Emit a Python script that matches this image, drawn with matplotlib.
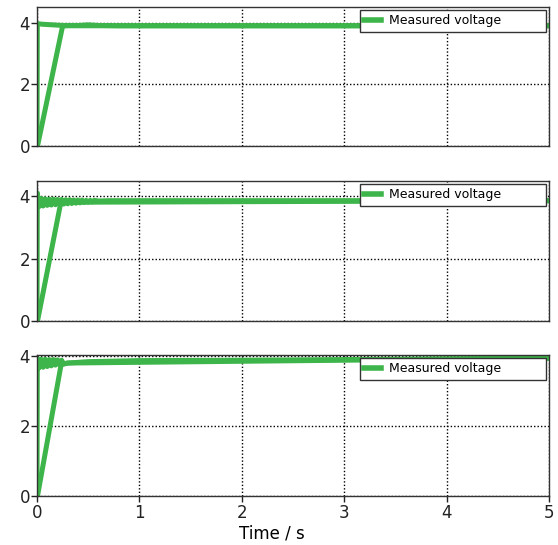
import numpy as np
import matplotlib.pyplot as plt

# time / voltage readings for each panel
t1_step = [0, 0.003, 0.05, 0.15, 0.25, 0.4, 0.5, 0.6, 0.8, 1.0, 2.0, 3.0, 4.0, 5.0]
v1_step = [0, 3.98, 3.96, 3.94, 3.92, 3.92, 3.94, 3.92, 3.91, 3.91, 3.91, 3.91, 3.91, 3.91]
t1_ramp = [0.005, 0.25, 0.3, 5.0]
v1_ramp = [0, 3.9, 3.91, 3.91]

t2_step = [0, 0.003, 0.02, 0.04, 0.06, 0.08, 0.10, 0.12, 0.14, 0.16, 0.18, 0.20,
           0.22, 0.24, 0.26, 0.28, 0.30, 0.32, 0.34, 0.36, 0.38, 0.40, 0.42, 0.44,
           0.46, 0.48, 0.50, 0.52, 0.54, 0.56, 0.60, 0.70, 1.0, 5.0]
v2_step = [0, 4.10, 3.66, 3.92, 3.68, 3.91, 3.70, 3.90, 3.71, 3.90, 3.72, 3.89,
           3.73, 3.89, 3.74, 3.88, 3.75, 3.88, 3.76, 3.87, 3.77, 3.87, 3.78, 3.87,
           3.79, 3.86, 3.80, 3.86, 3.81, 3.86, 3.84, 3.85, 3.85, 3.85]
t2_ramp = [0.005, 0.23, 0.3, 5.0]
v2_ramp = [0, 3.75, 3.8, 3.85]

t3_step = [0, 0.003, 0.02, 0.04, 0.06, 0.08, 0.10, 0.12, 0.14, 0.16, 0.18, 0.20,
           0.22, 0.24, 0.26, 0.3, 0.5, 1.0, 2.0, 3.0, 4.0, 5.0]
v3_step = [0, 3.93, 3.66, 3.91, 3.68, 3.91, 3.70, 3.90, 3.72, 3.90, 3.74, 3.89,
           3.75, 3.88, 3.78, 3.80, 3.84, 3.87, 3.88, 3.90, 3.92, 3.94]
t3_ramp = [0.005, 0.235, 0.3, 5.0]
v3_ramp = [0, 3.75, 3.8, 3.94]

panels = [(t1_step, v1_step, t1_ramp, v1_ramp, 4.52),
          (t2_step, v2_step, t2_ramp, v2_ramp, 4.48),
          (t3_step, v3_step, t3_ramp, v3_ramp, 4.03)]

xticks = [0, 1, 2, 3, 4, 5]
yticks = [0, 2, 4]
green = '#3db54a'

plt.rcParams['font.family'] = ['DejaVu Sans']

fig = plt.figure(figsize=(5.58, 5.45), dpi=100)
# axes boxes in pixels: (top, bottom)
boxes = [(7, 146), (181, 321), (355, 496)]
W, H = 558, 545
left, right = 37, 549

for i, (ts, vs, tr, vr, ytop) in enumerate(panels):
    top, bot = boxes[i]
    ax = fig.add_axes([left / W, 1 - bot / H, (right - left) / W, (bot - top) / H])
    ax.plot(ts, vs, color=green, lw=3.6, label='Measured voltage', solid_joinstyle='round')
    ax.plot(tr, vr, color=green, lw=3.6, solid_joinstyle='round')
    ax.set_xlim(0, 5)
    ax.set_ylim(0, ytop)
    ax.set_xticks(xticks)
    ax.set_yticks(yticks)
    ax.grid(True, color='black', linestyle=(0, (1, 1.5)), linewidth=1)
    ax.tick_params(direction='out', length=4, width=1, labelsize=12, colors='#222222',
                   pad=1)
    ax.tick_params(axis='x', pad=2)
    for s in ax.spines.values():
        s.set_color('#333333')
        s.set_linewidth(1)
    if i < 2:
        ax.tick_params(axis='x', labelbottom=False, length=0)
    else:
        ax.set_xlabel('Time / s', fontsize=12)
        ax.xaxis.set_label_coords((271.5 - left) / (right - left), -0.2)
    h = bot - top
    w = right - left
    leg = ax.legend(loc='upper left', mode='expand',
                    bbox_to_anchor=((360 - left) / w, 1 - 30 / h, (546 - 360) / w, 27 / h),
                    fontsize=9, fancybox=False, framealpha=1, edgecolor='#333333',
                    handlelength=1.3, handletextpad=0.7, borderpad=0.35,
                    borderaxespad=0)
    leg.get_frame().set_linewidth(1)
    for ln in leg.get_lines():
        ln.set_linewidth(4)

fig.savefig('out.png', dpi=100)
